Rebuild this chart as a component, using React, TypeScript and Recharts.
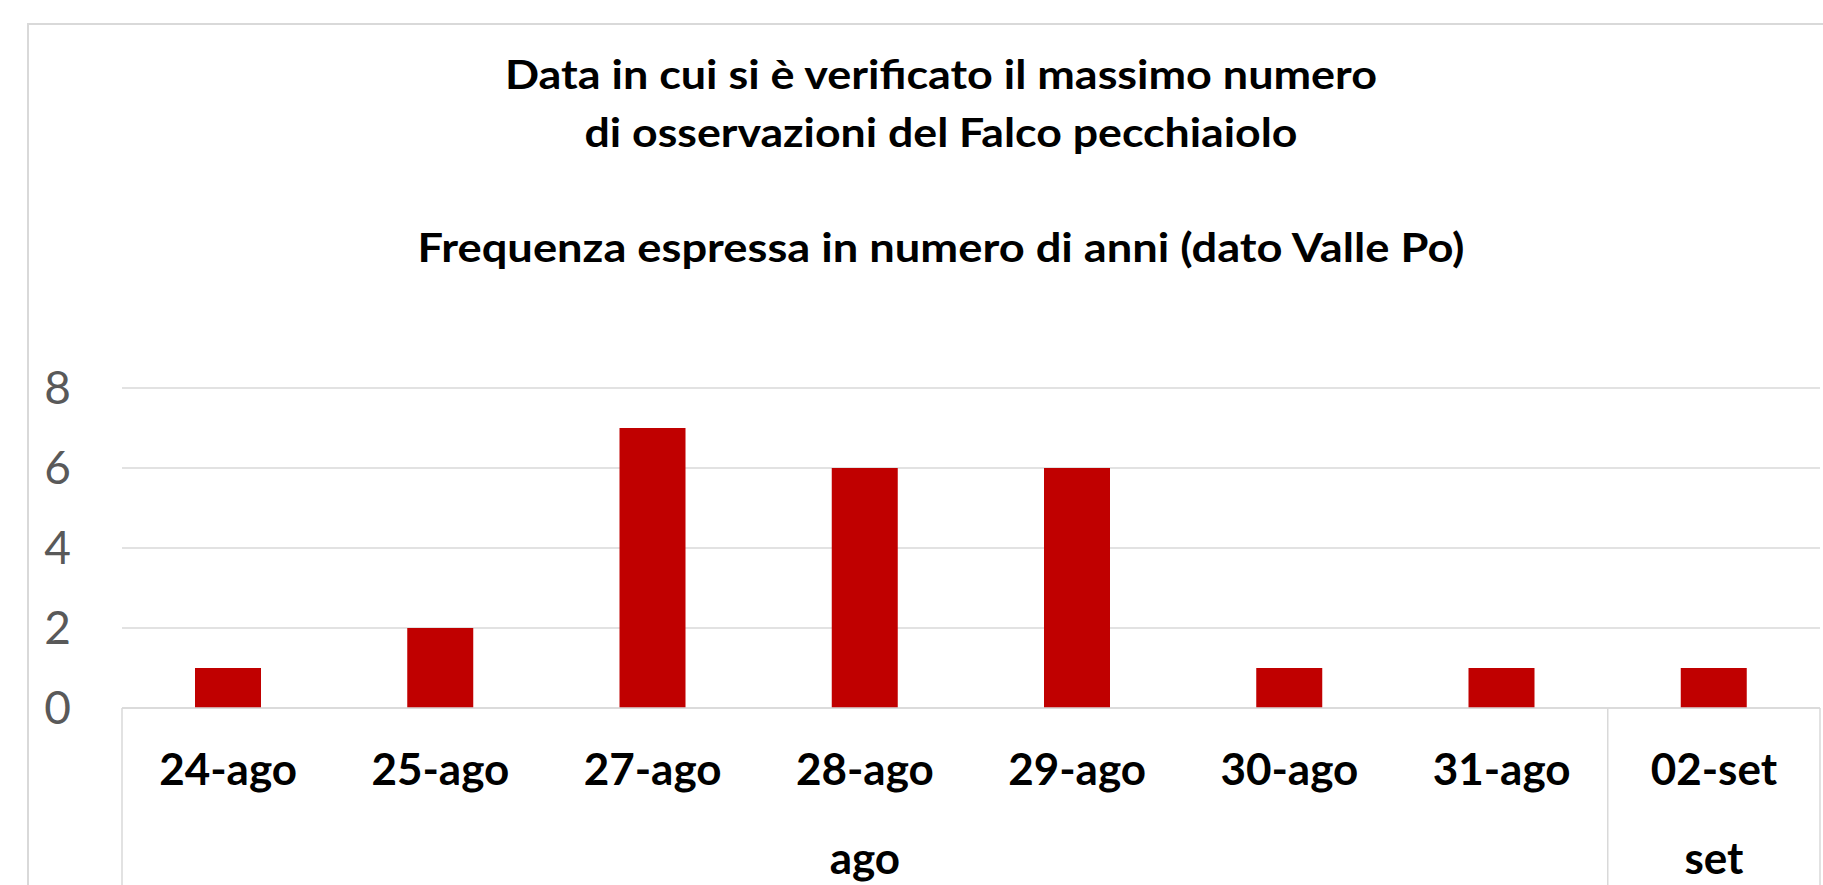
import * as React from 'react';
import { BarChart, Bar, XAxis, YAxis, CartesianGrid } from 'recharts';

const days = ['24-ago', '25-ago', '27-ago', '28-ago', '29-ago', '30-ago', '31-ago', '02-set'];
const months = ['ago', 'ago', 'ago', 'ago', 'ago', 'ago', 'ago', 'set'];
const years = [1, 2, 7, 6, 6, 1, 1, 1];
const yTicks = [0, 2, 4, 6, 8];
const titleLines = [
  'Data in cui si è verificato il massimo numero',
  'di osservazioni del Falco pecchiaiolo',
  'Frequenza espressa in numero di anni (dato Valle Po)',
];

const W = 1823;
const H = 885;
const FONT = 'Lato, "Open Sans", sans-serif';
const GRID = '#d9d9d9';

const titleBase = [89, 147, 262];
const titleWidth = [872, 713, 1047];

const data = days.map((d, i) => ({ day: d, month: months[i], years: years[i] }));

// two level category axis: day on top, month group below, with group dividers
function MultiLevelTick(props: any) {
  const { x, y, payload } = props;
  const i = payload.index;
  const half = payload.offset ?? (W - 3 - 122) / days.length / 2;
  const month = months[i];
  const first = i === 0 || months[i - 1] !== month;
  const last = i === months.length - 1;
  let count = 0;
  if (first) {
    for (let j = i; j < months.length && months[j] === month; j++) count++;
  }
  const left = x - half;
  return (
    <g>
      <text x={x} y={y + 77} textAnchor="middle" fontFamily={FONT} fontWeight={700} fontSize={44} fill="#000">
        {payload.value}
      </text>
      {first && (
        <>
          <line x1={left} x2={left} y1={y} y2={H} stroke={GRID} strokeWidth={1.5} />
          <text x={left + count * half} y={y + 166} textAnchor="middle" fontFamily={FONT} fontWeight={700} fontSize={44} fill="#000">
            {month}
          </text>
        </>
      )}
      {last && <line x1={x + half} x2={x + half} y1={y} y2={H} stroke={GRID} strokeWidth={1.5} />}
    </g>
  );
}

export default function App() {
  return (
    <div style={{ position: 'absolute', left: 0, top: 0, width: W, height: H, background: '#fff', overflow: 'hidden' }}>
      <div style={{ position: 'absolute', left: 27, top: 23, width: W - 27, height: H - 23, borderTop: `2px solid ${GRID}`, borderLeft: `2px solid ${GRID}`, boxSizing: 'border-box' }} />
      <svg width={W} height={300} style={{ position: 'absolute', left: 0, top: 0 }}>
        {titleLines.map((t, i) => (
          <text
            key={i}
            x={941}
            y={titleBase[i]}
            textAnchor="middle"
            textLength={titleWidth[i]}
            lengthAdjust="spacingAndGlyphs"
            fontFamily={FONT}
            fontWeight={700}
            fontSize={41}
            fill="#000"
          >
            {t}
          </text>
        ))}
      </svg>
      <div style={{ position: 'absolute', left: 0, top: 0 }}>
        <BarChart width={W} height={H} data={data} margin={{ top: 388, right: 3, left: 0, bottom: 0 }}>
          <CartesianGrid vertical={false} stroke={GRID} strokeWidth={1.5} />
          <XAxis
            dataKey="day"
            height={177}
            interval={0}
            tickSize={0}
            tickMargin={0}
            tickLine={false}
            axisLine={{ stroke: GRID, strokeWidth: 1.5 }}
            tick={<MultiLevelTick />}
          />
          <YAxis
            width={122}
            domain={[0, 8]}
            ticks={yTicks}
            axisLine={false}
            tickLine={false}
            tickSize={0}
            tickMargin={51}
            tick={{ fontFamily: FONT, fontSize: 46, fill: '#595959' }}
          />
          <Bar dataKey="years" fill="#c00000" barSize={66} isAnimationActive={false} />
        </BarChart>
      </div>
    </div>
  );
}
